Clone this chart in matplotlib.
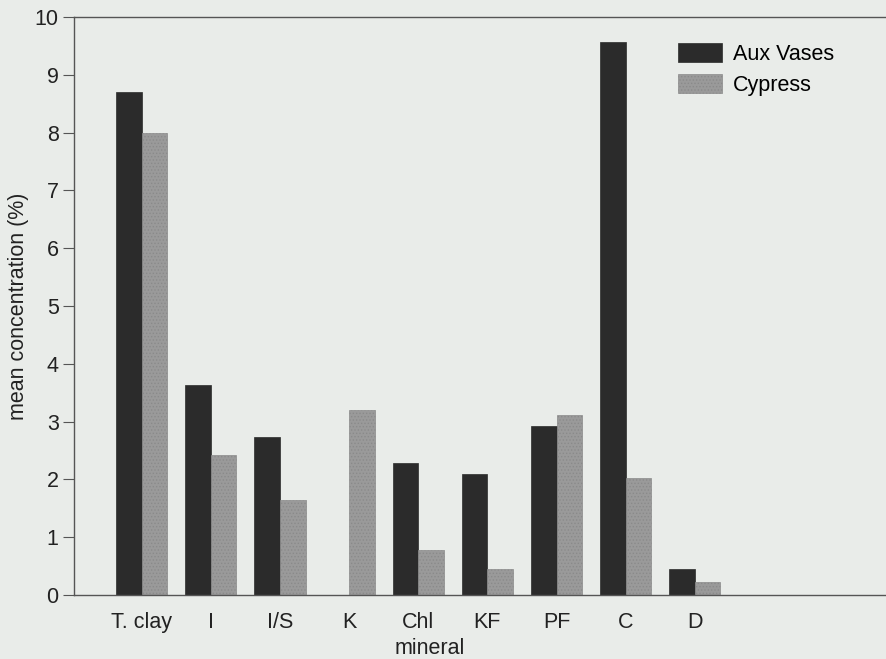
import matplotlib
matplotlib.use("Agg")
import matplotlib.pyplot as plt
import numpy as np

minerals = ["T. clay", "I", "I/S", "K", "Chl", "KF", "PF", "C", "D"]
aux_vases = [8.70, 3.63, 2.73, 0.0, 2.28, 2.10, 2.93, 9.57, 0.45]
cypress = [8.00, 2.42, 1.65, 3.20, 0.77, 0.45, 3.12, 2.03, 0.22]

plt.rcParams['font.family'] = ['Liberation Sans', 'DejaVu Sans']
plt.rcParams['hatch.color'] = '#c8c8c8'
plt.rcParams['hatch.linewidth'] = 0.6

fs = 15.5
bg = '#e9ece9'
fig = plt.figure(figsize=(8.87, 6.59), dpi=100, facecolor=bg)
ax = fig.add_axes([74/887, (659-595)/659, 1 - 74/887, (595-17)/659], facecolor=bg)

x = np.arange(len(minerals))
w = 0.37
ax.bar(x - w/2, aux_vases, w, color='#2b2b2b', edgecolor='#2b2b2b', linewidth=0.5, label='Aux Vases')
ax.bar(x + w/2, cypress, w, color='#9a9a9a', edgecolor='#8a8a8a', linewidth=0.5, hatch='.....', label='Cypress')

ax.set_xlim(-0.98, 10.78)
ax.set_ylim(0, 10)
ax.set_yticks(range(0, 11))
ax.set_xticks(x)
ax.set_xticklabels(minerals, fontsize=fs, color='#222222')
ax.tick_params(axis='x', length=0, pad=12)
ax.tick_params(axis='y', length=8, width=0.8, labelsize=fs, colors='#555555', labelcolor='#222222', pad=3)

for s in ['left', 'bottom', 'top']:
    ax.spines[s].set_color('#555555')
    ax.spines[s].set_linewidth(1.0)
ax.spines['right'].set_visible(False)

ax.set_ylabel('mean concentration (%)', fontsize=fs, color='#222222', labelpad=4)
fig.text(430/887, 1 - 648/659, 'mineral', ha='center', va='center', fontsize=fs, color='#222222')

ax.legend(loc='upper left', bbox_to_anchor=((678-74)/813, 1 - 26/578), frameon=False,
          fontsize=fs, handlelength=2.05, handleheight=0.95, handletextpad=0.5,
          labelspacing=0.45, borderaxespad=0, borderpad=0)

fig.savefig('out.png', dpi=100, facecolor=bg)
